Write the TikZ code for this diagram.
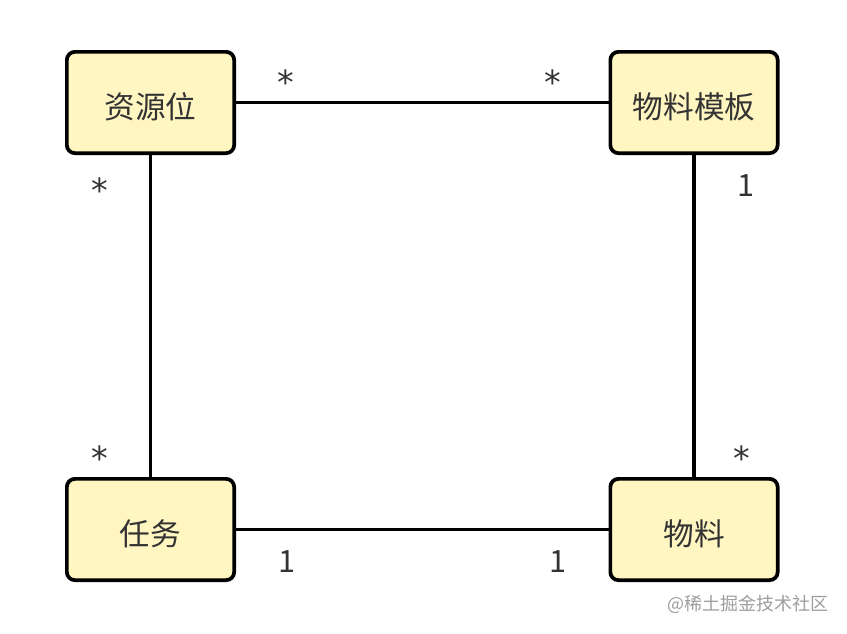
\documentclass[tikz,border=0pt]{standalone}
\usepackage{fontspec}
\setmainfont{Noto Sans CJK SC}
\newfontfamily\cjk{Noto Sans CJK SC}
\newfontfamily\dejavu{DejaVu Sans}
\begin{document}
\begin{tikzpicture}[x=0.75pt,y=-0.75pt,
  entity/.style={draw=black,line width=2.8pt,fill=boxfill,rounded corners=6pt,
    minimum width=171*0.75pt-2.8pt,minimum height=105*0.75pt-2.8pt,inner sep=0pt},
  etext/.style={font=\cjk\fontsize{23}{26}\selectfont,text=txt,inner sep=0pt,yshift=-3.5pt},
  link/.style={line width=2.9pt,draw=black},
  mult/.style={font=\cjk\fontsize{23}{26}\selectfont,text=txt,inner sep=0pt},
  star/.style={font=\dejavu\fontsize{25}{27}\selectfont,text=txt,inner sep=0pt}]
\definecolor{boxfill}{HTML}{FFF6C1}
\definecolor{txt}{HTML}{333333}
\useasboundingbox[fill=white] (0,0) rectangle (847,633);
\node[entity,label={[etext]center:资源位}] (zy) at (150.5,102.5) {};
\node[entity,label={[etext]center:物料模板}] (wm) at (694,102.5) {};
\node[entity,label={[etext]center:任务}] (rw) at (150.5,529.5) {};
\node[entity,label={[etext]center:物料}] (wl) at (694,529.5) {};
\draw[link] (zy) -- (wm);
\draw[link] (zy) -- (rw);
\draw[link] (wm) -- (wl);
\draw[link] (rw) -- (wl);
\node[star] (m1) at (286,82) {*};
\node[star] (m2) at (553,82) {*};
\node[star] (m3) at (100,190) {*};
\node[star] (m4) at (100,458) {*};
\node[star] (m5) at (742,458) {*};
\node[mult] (n1) at (746,186) {1};
\node[mult] (n2) at (287,562) {1};
\node[mult] (n3) at (558,562) {1};
\node[font=\cjk\fontsize{13.5}{16}\selectfont,text=black!38,inner sep=0pt] (wmk) at (748,604) {@稀土掘金技术社区};
\end{tikzpicture}
\end{document}
